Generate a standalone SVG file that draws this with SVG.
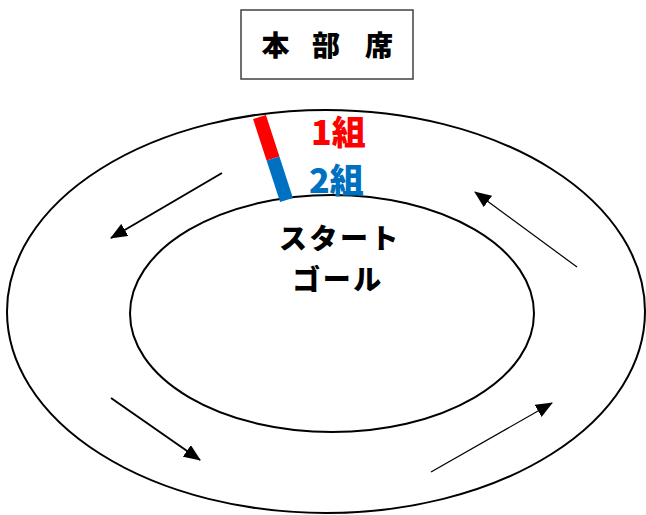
<svg xmlns="http://www.w3.org/2000/svg" width="646" height="515" viewBox="0 0 646 515">
<style>
.track{fill:none;stroke:#000;stroke-width:2}
.arr{stroke:#000;fill:none}
.jp{font-family:"Noto Sans CJK JP","Noto Sans",sans-serif;font-weight:900}
</style>
<defs>
<marker id="ah" markerUnits="userSpaceOnUse" markerWidth="18" markerHeight="14" refX="16" refY="7" orient="auto">
<path d="M0,0 L17,7 L0,14 Z" fill="#000"/>
</marker>
</defs>
<rect width="646" height="515" fill="#fff"/>
<g id="honbuseki">
<rect x="241" y="10" width="172" height="69" fill="#fff" stroke="#404040" stroke-width="1.5"/>
<text class="jp" font-size="28" text-anchor="middle" y="56"><tspan x="275.5">本</tspan><tspan x="326">部</tspan><tspan x="379">席</tspan></text>
</g>
<g id="outer-track">
<ellipse class="track" cx="326" cy="311.5" rx="319" ry="201.5"/>
</g>
<g id="inner-track">
<ellipse class="track" cx="332" cy="313.5" rx="202" ry="118.5"/>
</g>
<g id="start-line">
<line x1="259.5" y1="117" x2="273" y2="158.5" stroke="#ff0000" stroke-width="13.5"/>
<line x1="273" y1="158.5" x2="286.5" y2="200" stroke="#0070c0" stroke-width="13.5"/>
</g>
<g id="label-1">
<text class="jp" font-size="34" x="311" y="145" fill="#ff0000">1組</text>
</g>
<g id="label-2">
<text class="jp" font-size="34" x="309" y="193" fill="#0070c0">2組</text>
</g>
<g id="start-goal">
<text class="jp" font-size="28" text-anchor="middle" letter-spacing="2.5" x="340" y="249">スタート</text>
<text class="jp" font-size="28" text-anchor="middle" letter-spacing="2.5" x="338" y="290">ゴール</text>
</g>
<g id="connectors">
<line class="arr" stroke-width="2" x1="222" y1="173" x2="111" y2="238" marker-end="url(#ah)"/>
<line class="arr" stroke-width="2" x1="111" y1="398" x2="200" y2="460" marker-end="url(#ah)"/>
<line class="arr" stroke-width="1.2" x1="431" y1="472" x2="552" y2="403" marker-end="url(#ah)"/>
<line class="arr" stroke-width="1.2" x1="577" y1="267" x2="475" y2="192" marker-end="url(#ah)"/>
</g>
</svg>
